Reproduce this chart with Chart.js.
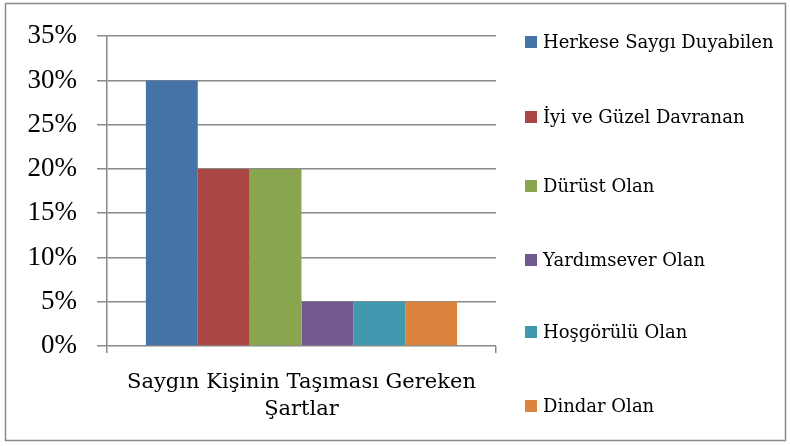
<!DOCTYPE html>
<html><head><meta charset="utf-8">
<script src="https://cdn.jsdelivr.net/npm/chart.js@4/dist/chart.umd.min.js"></script>
<style>html,body{margin:0;padding:0;background:#fff}#wrap{width:790px;height:446px;position:relative}</style>
</head><body><div id="wrap"><canvas id="c" width="790" height="446"></canvas></div>
<script>
const categories = [['Saygın Kişinin Taşıması Gereken','Şartlar']];
const seriesNames = ['Herkese Saygı Duyabilen','İyi ve Güzel Davranan','Dürüst Olan','Yardımsever Olan','Hoşgörülü Olan','Dindar Olan'];
const seriesValues = [30, 20, 20, 5, 5, 5];
const seriesColors = ['#4572A7','#AA4643','#89A54E','#71588F','#4198AF','#DB843D'];
const yTicks = [0,5,10,15,20,25,30,35];

const frame = {id:'frame', afterDraw(chart){
  const ctx = chart.ctx; ctx.save();
  ctx.strokeStyle='#8a8a8a'; ctx.lineWidth=1.5;
  ctx.strokeRect(5.5,3.5,780,437);
  // custom legend
  const ys=[42,117,186,260,332,406];
  ctx.font='18px "DejaVu Serif"'; ctx.textBaseline='middle'; ctx.textAlign='left';
  chart.data.datasets.forEach((d,i)=>{
    ctx.fillStyle=d.backgroundColor; ctx.fillRect(525,ys[i]-6,12,12);
    ctx.fillStyle='#000'; ctx.fillText(d.label,543,ys[i]+1);
  });
  ctx.restore();
}};

new Chart(document.getElementById('c'),{
  type:'bar',
  data:{labels:categories, datasets: seriesNames.map((n,i)=>({label:n,data:[seriesValues[i]],backgroundColor:seriesColors[i],borderWidth:0}))},
  options:{responsive:false,animation:false,
    layout:{padding:{left:0,top:36,right:294,bottom:10}},
    datasets:{bar:{categoryPercentage:0.8,barPercentage:1}},
    plugins:{legend:{display:false},tooltip:{enabled:false}},
    scales:{
      x:{offset:true,
        grid:{offset:true,drawOnChartArea:false,tickLength:7,color:'#8a8a8a',lineWidth:1.5},
        border:{display:false},
        ticks:{font:{family:'DejaVu Serif',size:21,lineHeight:1.3},color:'#000',padding:16,maxRotation:0},
        afterFit(s){s.height=90;}},
      y:{min:0,max:35,
        afterBuildTicks(s){s.ticks=yTicks.map(v=>({value:v}));},
        grid:{color:'#8a8a8a',lineWidth:1.5,tickLength:10},
        border:{color:'#8a8a8a',width:1.5},
        ticks:{font:{family:'Liberation Serif',size:27},color:'#000',padding:20,callback:v=>v+'%'},
        afterFit(s){s.width=107;}}
    }},
  plugins:[frame]
});
</script></body></html>
